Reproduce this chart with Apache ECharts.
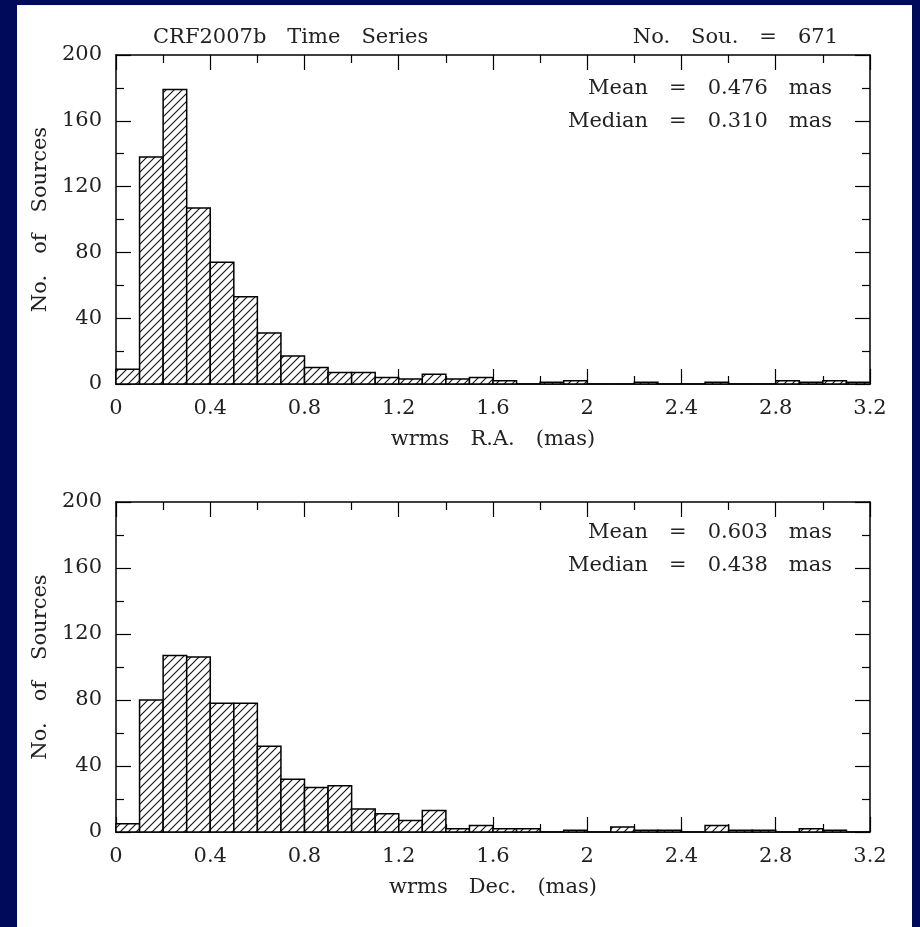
<!DOCTYPE html>
<html>
<head>
<meta charset="utf-8">
<script src="https://cdn.jsdelivr.net/npm/echarts@6/dist/echarts.min.js"></script>
<style>
  html, body { margin: 0; padding: 0; background: #000a5a; }
  #chart { width: 920px; height: 927px; }
</style>
</head>
<body>
<div id="chart"></div>
<script>
// Histogram bin edges (mas), 0.1 mas bins
const binEdges = [0, 0.1, 0.2, 0.3, 0.4, 0.5, 0.6, 0.7, 0.8, 0.9, 1.0, 1.1, 1.2, 1.3, 1.4, 1.5,
                  1.6, 1.7, 1.8, 1.9, 2.0, 2.1, 2.2, 2.3, 2.4, 2.5, 2.6, 2.7, 2.8, 2.9, 3.0, 3.1, 3.2];
// Source counts per bin
const raCounts  = [9, 138, 179, 107, 74, 53, 31, 17, 10, 7, 7, 4, 3, 6, 3, 4,
                   2, 0, 1, 2, 0, 0, 1, 0, 0, 1, 0, 0, 2, 1, 2, 1];
const decCounts = [5, 80, 107, 106, 78, 78, 52, 32, 27, 28, 14, 11, 7, 13, 2, 4,
                   2, 2, 0, 1, 0, 3, 1, 1, 0, 4, 1, 1, 0, 2, 1, 0];
// Axis ranges
const xRange = [0, 3.2];
const xStep = 0.4;
const yRange = [0, 200];
const yStep = 40;
// Annotation texts
const titleText = 'CRF2007b Time Series';
const countText = 'No. Sou. = 671';
const raStats  = ['Mean = 0.476 mas', 'Median = 0.310 mas'];
const decStats = ['Mean = 0.603 mas', 'Median = 0.438 mas'];
const raAxisName = 'wrms R.A. (mas)';
const decAxisName = 'wrms Dec. (mas)';
const yAxisName = 'No. of Sources';

const FONT = '"DejaVu Serif", "Liberation Serif", serif';
const FS = 21;
const TXT = '#222';

// Plotter-style wide word spacing: draw each space as an em space
const wide = s => s.replace(/ /g, '\u2003');

// Diagonal hatch pattern used to fill the bars
function makeHatch() {
  const s = 8;
  const c = document.createElement('canvas');
  c.width = s; c.height = s;
  const g = c.getContext('2d');
  g.fillStyle = '#fff';
  g.fillRect(0, 0, s, s);
  g.strokeStyle = '#111';
  g.lineWidth = 1.1;
  g.beginPath();
  g.moveTo(-1, s + 1); g.lineTo(s + 1, -1);
  g.moveTo(-1, 1); g.lineTo(1, -1);
  g.moveTo(s - 1, s + 1); g.lineTo(s + 1, s - 1);
  g.stroke();
  return c;
}
const hatch = { image: makeHatch(), repeat: 'repeat' };

function toBins(counts) {
  return counts.map((v, i) => [binEdges[i], binEdges[i + 1], v]);
}

const lineCol = '#000';
function xAxes(gridIndex, name) {
  const common = {
    type: 'value', gridIndex, min: xRange[0], max: xRange[1], interval: xStep,
    axisLine: { onZero: false, lineStyle: { color: lineCol, width: 1.5 } },
    axisTick: { inside: true, length: 15, lineStyle: { color: lineCol, width: 1.2 } },
    minorTick: { show: true, splitNumber: 2, length: 8, lineStyle: { color: lineCol, width: 1.2 } },
    splitLine: { show: false }, minorSplitLine: { show: false }
  };
  return [
    Object.assign({}, common, {
      position: 'bottom', name: wide(name), nameLocation: 'middle', nameGap: 45,
      nameTextStyle: { fontFamily: FONT, fontSize: FS, color: TXT },
      axisLabel: { fontFamily: FONT, fontSize: FS, color: TXT, margin: 14 }
    }),
    Object.assign({}, common, { position: 'top', axisLabel: { show: false } })
  ];
}
function yAxes(gridIndex) {
  const common = {
    type: 'value', gridIndex, min: yRange[0], max: yRange[1], interval: yStep,
    axisLine: { onZero: false, lineStyle: { color: lineCol, width: 1.5 } },
    axisTick: { inside: true, length: 15, lineStyle: { color: lineCol, width: 1.2 } },
    minorTick: { show: true, splitNumber: 2, length: 8, lineStyle: { color: lineCol, width: 1.2 } },
    splitLine: { show: false }, minorSplitLine: { show: false }
  };
  return [
    Object.assign({}, common, {
      position: 'left', name: wide(yAxisName), nameLocation: 'middle', nameGap: 64, nameRotate: 90,
      nameTextStyle: { fontFamily: FONT, fontSize: FS, color: TXT },
      axisLabel: { fontFamily: FONT, fontSize: FS, color: TXT, margin: 14 }
    }),
    Object.assign({}, common, { position: 'right', axisLabel: { show: false } })
  ];
}

function histSeries(xi, yi, counts) {
  return {
    type: 'custom', xAxisIndex: xi, yAxisIndex: yi,
    data: toBins(counts),
    renderItem(params, api) {
      const p0 = api.coord([api.value(0), api.value(2)]);
      const p1 = api.coord([api.value(1), 0]);
      return {
        type: 'rect',
        shape: { x: p0[0], y: p0[1], width: p1[0] - p0[0], height: p1[1] - p0[1] },
        style: { fill: hatch, stroke: '#000', lineWidth: 1.5 }
      };
    }
  };
}

function label(text, x, y, align) {
  return { type: 'text', x, y, style: { text: wide(text), fontFamily: FONT, fontSize: FS, fill: TXT, align, verticalAlign: 'middle' } };
}

const chart = echarts.init(document.getElementById('chart'), null, { renderer: 'canvas' });
chart.setOption({
  animation: false,
  backgroundColor: '#000a5a',
  grid: [
    { left: 116, top: 55, width: 754, height: 329 },
    { left: 116, top: 502, width: 754, height: 330 }
  ],
  xAxis: [].concat(xAxes(0, raAxisName), xAxes(1, decAxisName)),
  yAxis: [].concat(yAxes(0), yAxes(1)),
  graphic: [
    { type: 'rect', z: -10, shape: { x: 17, y: 5, width: 895, height: 922 }, style: { fill: '#fff' } },
    label(titleText, 153, 38, 'left'),
    label(countText, 838, 38, 'right'),
    label(raStats[0], 832, 89, 'right'),
    label(raStats[1], 832, 122, 'right'),
    label(decStats[0], 832, 533, 'right'),
    label(decStats[1], 832, 566, 'right')
  ],
  series: [
    histSeries(0, 0, raCounts),
    histSeries(2, 2, decCounts)
  ]
});
</script>
</body>
</html>
